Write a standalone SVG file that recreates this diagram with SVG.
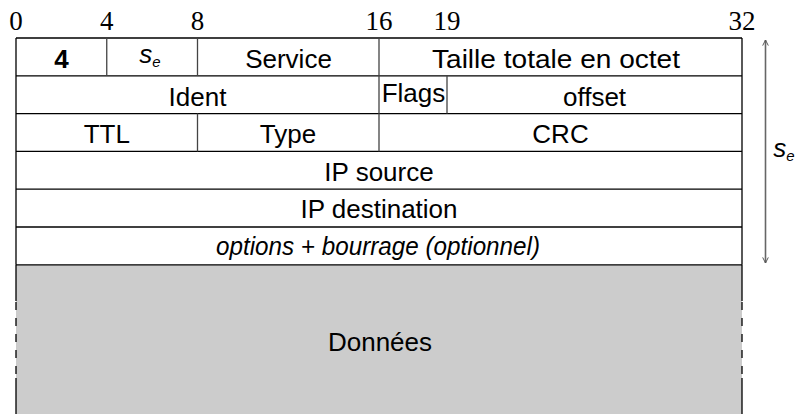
<svg xmlns="http://www.w3.org/2000/svg" width="798" height="414" viewBox="0 0 798 414">
<style>
.t{font-family:"Liberation Sans",Arial,sans-serif;font-size:26px;text-anchor:middle;fill:#000}
.n{font-family:"Liberation Serif","Times New Roman",serif;font-size:27px;text-anchor:middle;fill:#000}
.h{stroke:#000;stroke-width:1.3;fill:none}
.v{stroke:#444;stroke-width:1.3;fill:none}
.it{font-style:italic}
</style>
<defs>
<marker id="ah" viewBox="0 0 10 10" refX="9" refY="5" markerWidth="7" markerHeight="7" markerUnits="userSpaceOnUse" orient="auto-start-reverse">
<path d="M1,1 L9,5 L1,9" fill="none" stroke="#555" stroke-width="1.4"/>
</marker>
</defs>
<rect x="0" y="0" width="798" height="414" fill="#fff"/>
<g id="scale">
<text class="n" x="16" y="30">0</text>
<text class="n" x="106.75" y="30">4</text>
<text class="n" x="197.5" y="30">8</text>
<text class="n" x="379" y="30">16</text>
<text class="n" x="447" y="30">19</text>
<text class="n" x="742" y="30">32</text>
</g>
<g id="data">
<rect x="16" y="264.8" width="726" height="150" fill="#cccccc"/>
<path class="h" d="M16,264.8 V301 M16,378 V414 M742,264.8 V301 M742,378 V414"/>
<path class="h" stroke-dasharray="8 8" d="M16,302 V378 M742,302 V378"/>
<text class="t" x="380" y="351">Données</text>
</g>
<g id="row1">
<path class="h" d="M16,38 H742 M16,75.8 H742"/>
<path class="v" d="M106.75,38 V75.8 M197.5,38 V75.8 M379,38 V75.8"/>
<text class="t" x="61.4" y="68" font-weight="bold">4</text>
<text class="t it" x="150" y="63" font-size="21">s<tspan font-size="15" dy="4">e</tspan></text>
<text class="t" x="288.5" y="68">Service</text>
<text class="t" x="556" y="68" textLength="248" lengthAdjust="spacingAndGlyphs">Taille totale en octet</text>
</g>
<g id="row2">
<path class="h" d="M16,113.6 H742"/>
<path class="v" d="M379,75.8 V113.6 M447,75.8 V113.6"/>
<text class="t" x="197.5" y="106">Ident</text>
<text class="t" x="413.5" y="102.3" font-size="22">Flags</text>
<text class="t" x="594.5" y="106">offset</text>
</g>
<g id="row3">
<path class="h" d="M16,151.4 H742"/>
<path class="v" d="M197.5,113.6 V151.4 M379,113.6 V151.4"/>
<text class="t" x="106.75" y="143.3">TTL</text>
<text class="t" x="288" y="143.3">Type</text>
<text class="t" x="560.5" y="143.3">CRC</text>
</g>
<g id="row4">
<path class="h" d="M16,189.2 H742"/>
<text class="t" x="379" y="180.7">IP source</text>
</g>
<g id="row5">
<path class="h" d="M16,227 H742"/>
<text class="t" x="379" y="218.3">IP destination</text>
</g>
<g id="row6">
<path class="h" d="M16,264.8 H742"/>
<text class="t it" x="378" y="255" font-size="21" textLength="324" lengthAdjust="spacingAndGlyphs">options + bourrage (optionnel)</text>
</g>
<path class="h" d="M16,38 V264.8 M742,38 V264.8"/>
<g id="connectors">
<line x1="765.5" y1="263" x2="765.5" y2="40" stroke="#666" stroke-width="1.6" marker-start="url(#ah)" marker-end="url(#ah)"/>
<text class="t it" x="784" y="157" font-size="21">s<tspan font-size="15" dy="4">e</tspan></text>
</g>
</svg>
